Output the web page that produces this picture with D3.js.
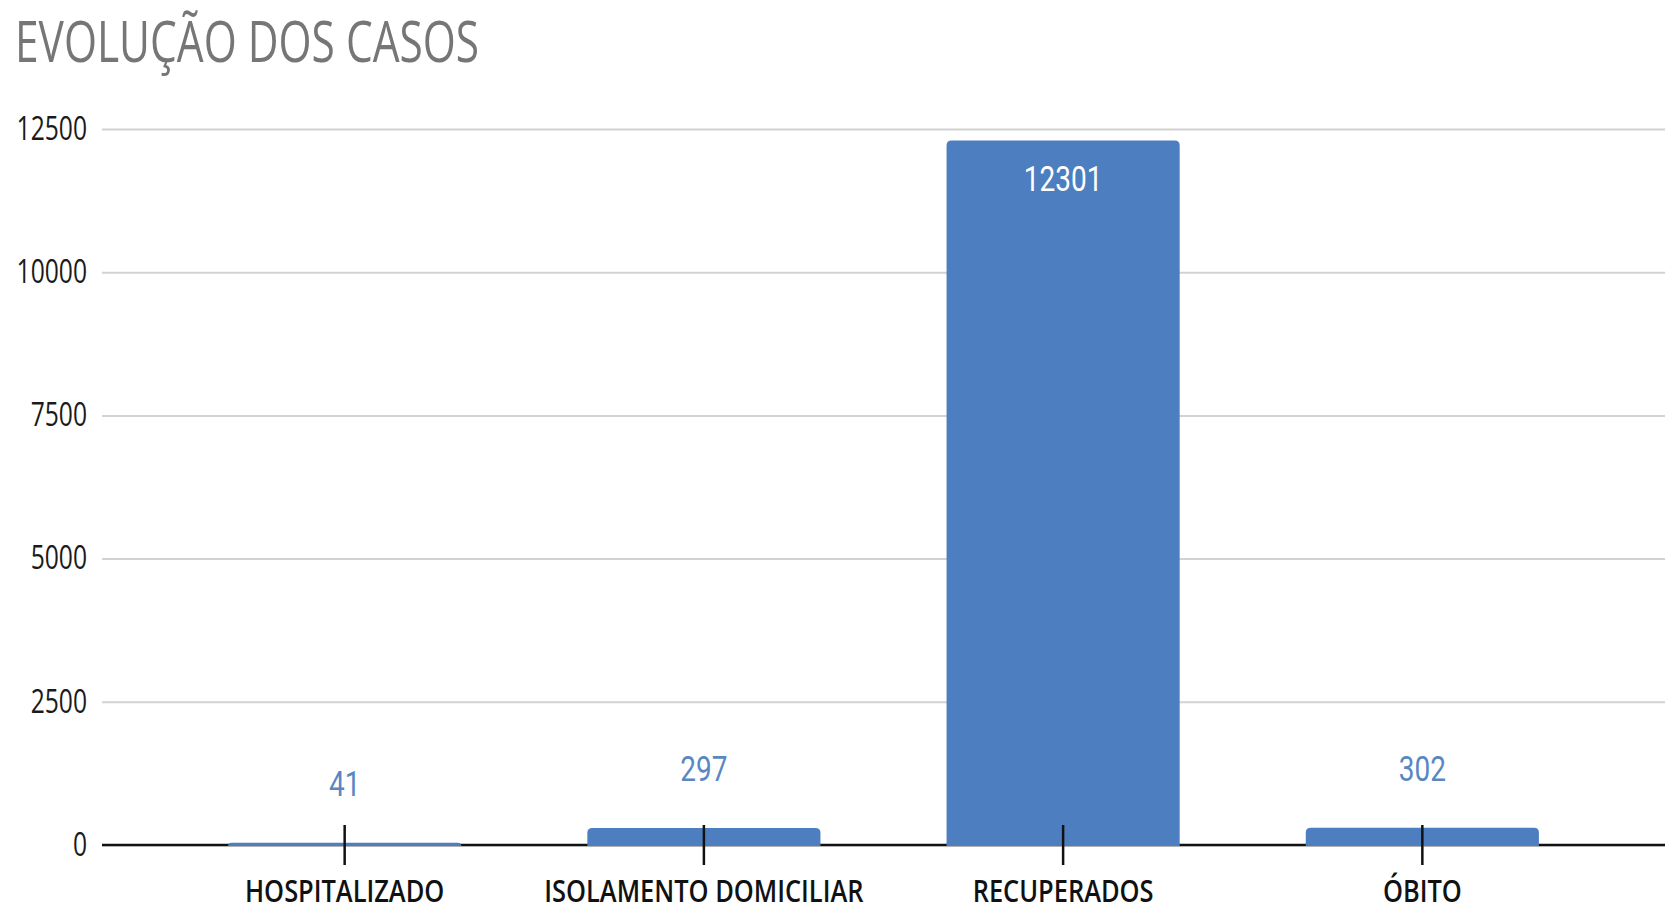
<!DOCTYPE html>
<html>
<head>
<meta charset="utf-8">
<script src="https://cdn.jsdelivr.net/npm/d3@7"></script>
<style>
  body { margin: 0; background: #fff; }
  svg { display: block; }
</style>
</head>
<body>
<div id="chart"></div>
<script>
// data
var categories = ["HOSPITALIZADO", "ISOLAMENTO DOMICILIAR", "RECUPERADOS", "ÓBITO"];
var values = [41, 297, 12301, 302];
var yTicks = [0, 2500, 5000, 7500, 10000, 12500];
var title = "EVOLUÇÃO DOS CASOS";

var width = 1665, height = 915;
var margin = {top: 129, right: 0, bottom: 70, left: 102};
var barColor = "#4d7ebf";

var svg = d3.select("#chart")
  .append("svg")
  .attr("width", width)
  .attr("height", height);

// squeeze text horizontally, the original looks condensed
function squeeze(sel, k) {
  sel.each(function() {
    var w = this.getComputedTextLength();
    d3.select(this)
      .attr("textLength", w * k)
      .attr("lengthAdjust", "spacingAndGlyphs");
  });
}

var x = d3.scaleBand()
  .domain(categories)
  .range([margin.left, width - margin.right])
  .paddingInner(0.351)
  .paddingOuter(0.351);

var y = d3.scaleLinear()
  .domain([0, 12500])
  .range([height - margin.bottom, margin.top]);

// title
svg.append("text")
  .attr("x", 15)
  .attr("y", 62)
  .attr("fill", "#767676")
  .style("font-family", "'Open Sans'")
  .style("font-size", "57px")
  .text(title)
  .call(squeeze, 0.745);

// gridlines + y labels
var yAxis = svg.append("g")
  .attr("transform", "translate(" + margin.left + ",0)")
  .call(d3.axisLeft(y)
    .tickValues(yTicks)
    .tickSize(-(width - margin.left - margin.right))
    .tickPadding(15)
    .tickFormat(d3.format("d")));

yAxis.select(".domain").remove();
yAxis.selectAll(".tick line")
  .attr("stroke", "#d2d2d2")
  .attr("stroke-width", 2);
yAxis.selectAll(".tick text")
  .attr("fill", "#1a1a1a")
  .style("font-family", "'Open Sans'")
  .style("font-size", "32px")
  .call(squeeze, 0.77);

// baseline under the bars
svg.append("line")
  .attr("x1", margin.left)
  .attr("x2", width - margin.right)
  .attr("y1", y(0))
  .attr("y2", y(0))
  .attr("stroke", "#111")
  .attr("stroke-width", 2.5);

// bars, rounded on top
function barPath(d, i) {
  var x0 = x(categories[i]), w = x.bandwidth();
  var y0 = y(0) + 1, y1 = y(d);
  var r = Math.min(5, y0 - y1);
  return "M" + x0 + "," + y0 +
    "V" + (y1 + r) +
    "Q" + x0 + "," + y1 + " " + (x0 + r) + "," + y1 +
    "H" + (x0 + w - r) +
    "Q" + (x0 + w) + "," + y1 + " " + (x0 + w) + "," + (y1 + r) +
    "V" + y0 + "Z";
}

svg.append("g")
  .selectAll("path")
  .data(values)
  .enter()
  .append("path")
  .attr("d", barPath)
  .attr("fill", barColor);

// value labels
svg.append("g")
  .selectAll("text")
  .data(values)
  .enter()
  .append("text")
  .attr("x", function(d, i) { return x(categories[i]) + x.bandwidth() / 2; })
  .attr("y", function(d) { return d > 5000 ? y(d) + 51 : y(d) - 47; })
  .attr("text-anchor", "middle")
  .attr("fill", function(d) { return d > 5000 ? "#ffffff" : "#5a87c2"; })
  .style("font-family", "Roboto")
  .style("font-size", "35px")
  .text(function(d) { return d; })
  .call(squeeze, 0.8);

// x axis ticks and labels, above the bars
var xAxis = svg.append("g")
  .attr("transform", "translate(0," + y(0) + ")")
  .call(d3.axisBottom(x).tickSizeOuter(0).tickPadding(29));

xAxis.select(".domain").remove();
xAxis.selectAll(".tick line")
  .attr("y1", -20)
  .attr("y2", 20)
  .attr("stroke", "#111")
  .attr("stroke-width", 2.5);
xAxis.selectAll(".tick text")
  .attr("fill", "#111")
  .style("font-family", "'Open Sans'")
  .style("font-weight", "600")
  .style("font-size", "31px")
  .call(squeeze, 0.82);
</script>
</body>
</html>
